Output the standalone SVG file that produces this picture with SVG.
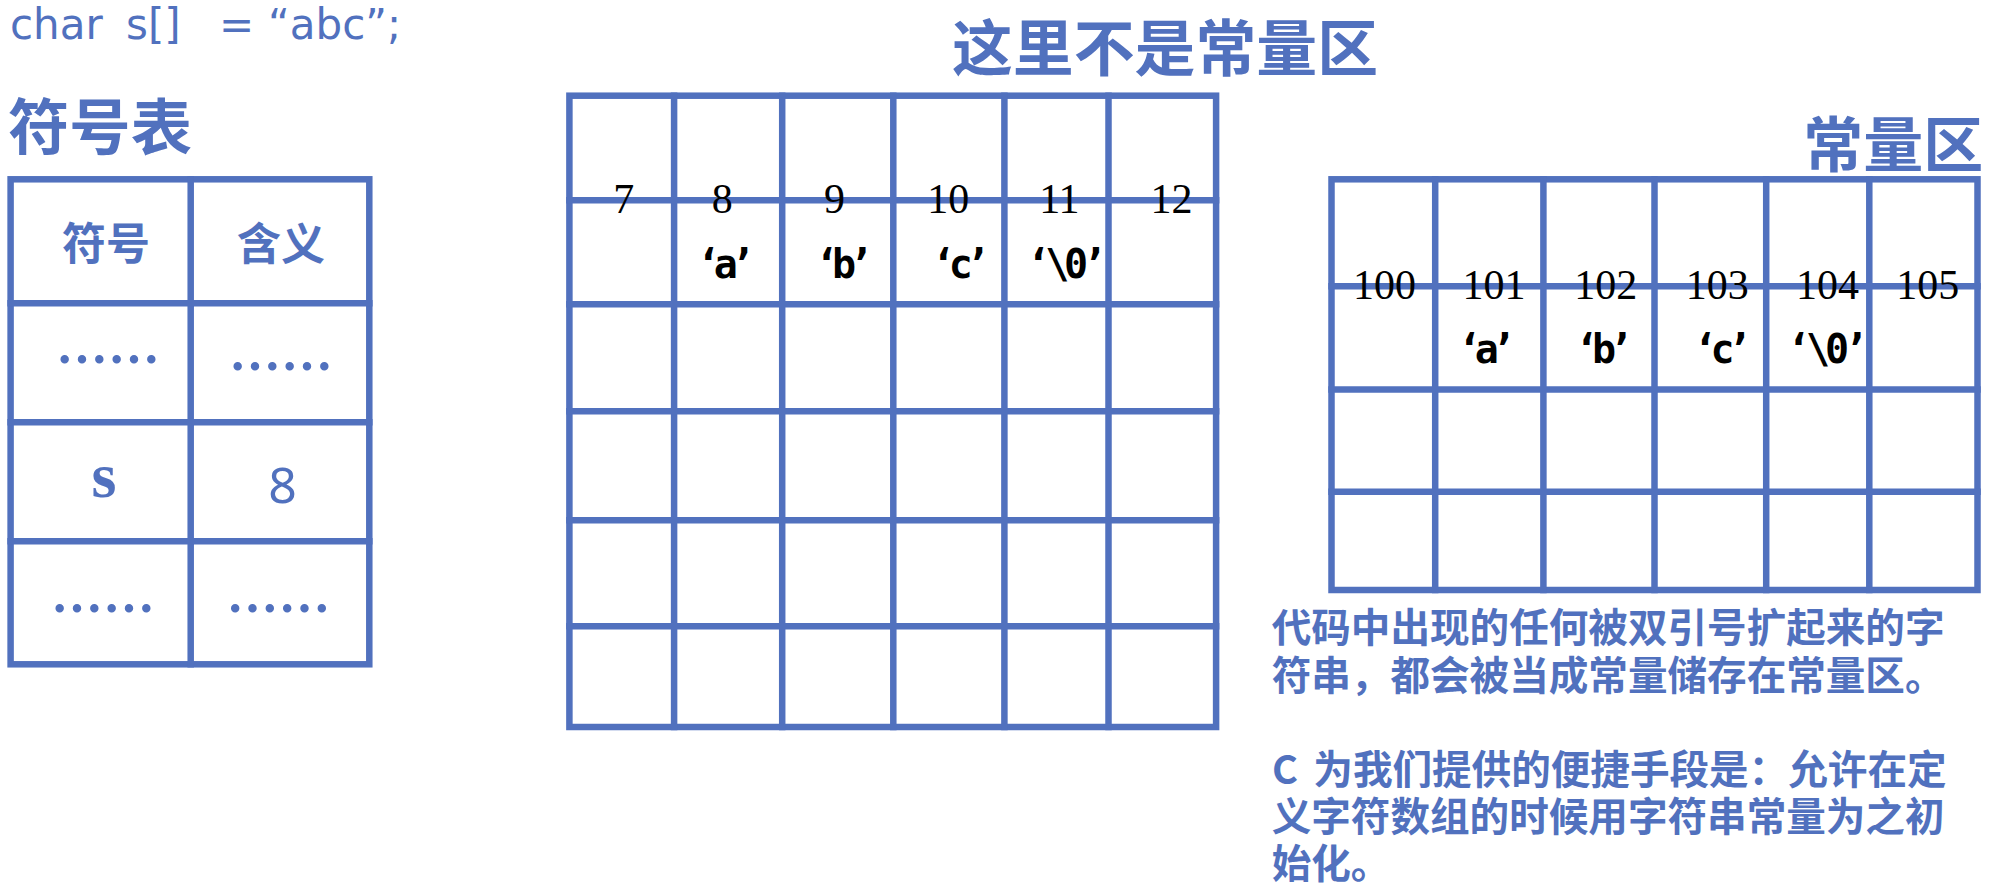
<svg xmlns="http://www.w3.org/2000/svg" width="1998" height="892" viewBox="0 0 1998 892">
<style>
.bg{fill:#ffffff}
.grid{fill:none;stroke:#5171BE;stroke-width:6.5;stroke-linecap:square}
.blue{fill:#5171BE}
.cjk{font-family:"Noto Sans CJK SC","Noto Sans",sans-serif;font-weight:700}
.code{font-family:"DejaVu Sans","Liberation Sans",sans-serif}
.num{font-family:"Liberation Serif",serif;font-size:42px;fill:#000000;text-anchor:middle}
.chr{font-family:"DejaVu Sans Mono","Liberation Mono",monospace;font-weight:700;font-size:40px;fill:#000000;text-anchor:middle}
.dots{font-family:"Noto Sans CJK SC",sans-serif;font-weight:700;font-size:52px;text-anchor:middle}
</style>
<rect class="bg" x="0" y="0" width="1998" height="892"/>
<g id="connectors"/>

<g id="code-line">
<text class="code blue" font-size="42" y="39"><tspan x="10">char</tspan><tspan x="126">s[]</tspan><tspan x="219">=</tspan><tspan x="268">“abc”;</tspan></text>
</g>

<g id="symbol-table">
<text class="cjk blue" x="8" y="150" font-size="61" textLength="184" lengthAdjust="spacingAndGlyphs">符号表</text>
<rect class="grid" x="10.6" y="179.3" width="358.7" height="485"/>
<path class="grid" d="M190.7 179.3V664.3M10.6 303.3H369.3M10.6 422.3H369.3M10.6 541.3H369.3"/>
<text class="cjk blue" x="106" y="260" font-size="44" text-anchor="middle">符号</text>
<text class="cjk blue" x="281" y="260" font-size="44" text-anchor="middle">含义</text>
<text class="dots blue" x="108" y="379">……</text>
<text class="dots blue" x="281" y="386">……</text>
<text class="blue" x="104" y="497" font-family="Liberation Serif, serif" font-weight="700" font-size="64" text-anchor="middle">s</text>
<text class="blue" x="282.5" y="503" font-family="Noto Sans, sans-serif" font-size="50" text-anchor="middle">8</text>
<text class="dots blue" x="103" y="628">……</text>
<text class="dots blue" x="278.5" y="628">……</text>
</g>

<g id="stack-area">
<text class="cjk blue" x="952" y="71" font-size="61" textLength="426" lengthAdjust="spacingAndGlyphs">这里不是常量区</text>
<rect class="grid" x="569.4" y="95.7" width="646.7" height="631.3"/>
<path class="grid" d="M674.1 95.7V727M782.2 95.7V727M893.3 95.7V727M1004.4 95.7V727M1108.5 95.7V727M569.4 200.3H1216.1M569.4 304.3H1216.1M569.4 411.3H1216.1M569.4 520.3H1216.1M569.4 626.3H1216.1"/>
<text class="num" x="623.7" y="213.3">7</text>
<text class="num" x="722.3" y="213.3">8</text>
<text class="num" x="834.4" y="213.3">9</text>
<text class="num" x="948.2" y="213.3">10</text>
<text class="num" x="1059.4" y="213.3">11</text>
<text class="num" x="1171.4" y="213.3">12</text>
<text class="chr" x="725.8" y="278" textLength="58" lengthAdjust="spacing">‘a’</text>
<text class="chr" x="844" y="278" textLength="58" lengthAdjust="spacing">‘b’</text>
<text class="chr" x="960.8" y="278" textLength="58" lengthAdjust="spacing">‘c’</text>
<text class="chr" x="1066.7" y="278" textLength="80" lengthAdjust="spacing">‘\0’</text>
</g>

<g id="const-area">
<text class="cjk blue" x="1803.3" y="167" font-size="60" textLength="180" lengthAdjust="spacingAndGlyphs">常量区</text>
<rect class="grid" x="1331.5" y="179.3" width="646" height="410.7"/>
<path class="grid" d="M1435.2 179.3V590M1543.4 179.3V590M1654.5 179.3V590M1766.2 179.3V590M1869.3 179.3V590M1331.5 286.2H1977.5M1331.5 389.5H1977.5M1331.5 491.7H1977.5"/>
<text class="num" x="1384.5" y="299.3">100</text>
<text class="num" x="1494" y="299.3">101</text>
<text class="num" x="1605.7" y="299.3">102</text>
<text class="num" x="1717.3" y="299.3">103</text>
<text class="num" x="1827.5" y="299.3">104</text>
<text class="num" x="1927.8" y="299.3">105</text>
<text class="chr" x="1486.7" y="363.3" textLength="58" lengthAdjust="spacing">‘a’</text>
<text class="chr" x="1604" y="363.3" textLength="58" lengthAdjust="spacing">‘b’</text>
<text class="chr" x="1722.5" y="363.3" textLength="58" lengthAdjust="spacing">‘c’</text>
<text class="chr" x="1827.5" y="363.3" textLength="81" lengthAdjust="spacing">‘\0’</text>
</g>

<g id="note">
<text class="cjk blue" font-size="39.6">
<tspan x="1271.7" y="642">代码中出现的任何被双引号扩起来的字</tspan>
<tspan x="1271.7" y="690">符串，都会被当成常量储存在常量区。</tspan>
<tspan x="1272" y="784">C</tspan><tspan x="1313.3" y="784">为我们提供的便捷手段是：允许在定</tspan>
<tspan x="1271.7" y="831">义字符数组的时候用字符串常量为之初</tspan>
<tspan x="1271.7" y="878">始化。</tspan>
</text>
</g>
</svg>
